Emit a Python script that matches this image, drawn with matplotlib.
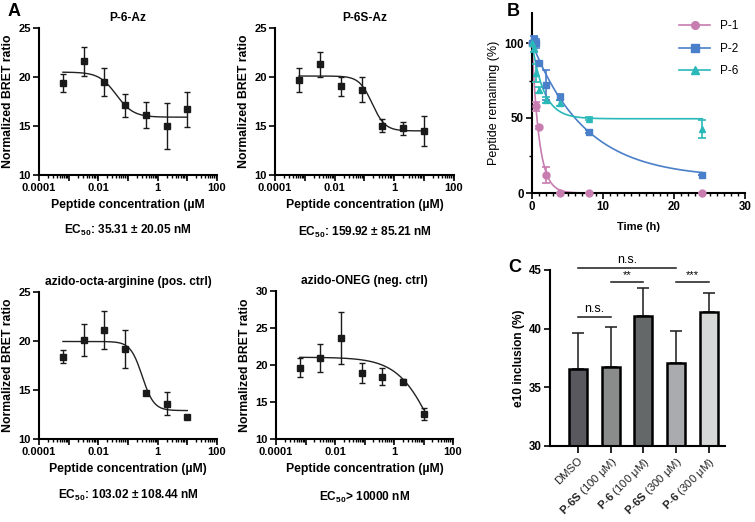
import numpy as np
import matplotlib
matplotlib.use('Agg')
import matplotlib.pyplot as plt
from matplotlib.ticker import FixedLocator, FixedFormatter, LogLocator, NullFormatter

plt.rcParams['font.family'] = ['Liberation Sans', 'DejaVu Sans']
plt.rcParams['font.weight'] = 'bold'
plt.rcParams['mathtext.fontset'] = 'custom'
plt.rcParams['mathtext.rm'] = 'Liberation Sans'
plt.rcParams['mathtext.bf'] = 'Liberation Sans:bold'
plt.rcParams['mathtext.default'] = 'bf'

# --- Panel A data (BRET dose response) ---
conc = [0.00064, 0.0032, 0.016, 0.08, 0.4, 2, 10]  # uM

p6az_mean = [19.4, 21.6, 19.5, 17.1, 16.1, 15.0, 16.7]
p6az_err = [0.9, 1.5, 1.45, 1.2, 1.3, 2.3, 1.8]
p6az_fit = [20.5, 15.9, 0.04, 1.5]      # top, bottom, EC50 (uM), hill

p6saz_mean = [19.7, 21.3, 19.05, 18.7, 15.05, 14.75, 14.5]
p6saz_err = [1.2, 1.25, 0.95, 1.3, 0.7, 0.7, 1.5]
p6saz_fit = [20.1, 14.5, 0.18, 2.0]

pos_mean = [18.4, 20.1, 21.1, 19.2, 14.65, 13.6, 12.2]
pos_err = [0.65, 1.6, 1.95, 1.95, 0.2, 1.2, 0.1]
pos_fit = [19.95, 12.9, 0.3, 2.2]

neg_mean = [19.65, 20.95, 23.65, 18.95, 18.4, 17.75, 13.4]
neg_err = [1.25, 1.9, 3.55, 1.35, 1.15, 0.35, 0.8]
neg_fit = [21.05, 0.0, 26.6, 0.7]

# --- Panel B data (peptide stability) ---
t_p1 = [0, 0.5, 1, 2, 4, 8, 24]
p1_mean = [100, 58, 44, 12, 0, 0, 0]
p1_err = [0, 3, 1, 5.5, 0, 0, 0]
p1_fit = [0, 1.0]            # plateau, k (1/h)

t_p2 = [0, 0.25, 0.5, 1, 2, 4, 8, 24]
p2_mean = [100, 103, 100, 87, 72, 64, 41, 12]
p2_err = [0, 2, 3, 1, 10, 2, 1, 0]
p2_fit = [10, 0.134]

t_p6 = [0, 0.25, 0.5, 1, 2, 4, 8, 24]
p6_mean = [100, 97, 80, 69, 62, 60, 49.5, 43]
p6_err = [0, 3, 6, 2, 2, 2, 1, 6]
p6_fit = [49.5, 0.6]

# --- Panel C data (exon 10 inclusion) ---
groups = ['DMSO', 'P-6S (100 μM)', 'P-6 (100 μM)', 'P-6S (300 μM)', 'P-6 (300 μM)']
group_labels = ['DMSO', r'$\mathbf{P}$-$\mathbf{6S}$ (100 μM)', r'$\mathbf{P}$-$\mathbf{6}$ (100 μM)',
                r'$\mathbf{P}$-$\mathbf{6S}$ (300 μM)', r'$\mathbf{P}$-$\mathbf{6}$ (300 μM)']
incl_mean = [36.55, 36.7, 41.1, 37.05, 41.45]
incl_err = [3.05, 3.4, 2.35, 2.75, 1.6]
bar_colors = ['#58585e', '#8a8c8c', '#656868', '#a9abae', '#d6d8d8']
sig = [(0, 1, 41.0, 'n.s.'), (1, 2, 44.0, '**'), (3, 4, 44.0, '***'), (0, 3, 45.2, 'n.s.')]

W, H = 755, 522
fig = plt.figure(figsize=(W / 100, H / 100), dpi=100)


def box(l, t, r, b):
    return [l / W, 1 - b / H, (r - l) / W, (b - t) / H]


def four_pl(x, top, bottom, ec50, hill):
    return bottom + (top - bottom) / (1 + (x / ec50) ** hill)


def dose_panel(rect, title, mean, err, fit, ylim, yticks, ec_text, xlab, ec_y):
    ax = fig.add_axes(rect)
    ax.set_xscale('log')
    xs = np.logspace(np.log10(conc[0]), np.log10(conc[-1]), 200)
    ax.plot(xs, four_pl(xs, *fit), color='#222222', lw=1.0)
    ax.errorbar(conc, mean, yerr=err, fmt='s', color='#1a1a1a', ms=4.8,
                elinewidth=1.0, capsize=2.5, capthick=1.0, clip_on=False)
    ax.set_xlim(1e-4, 100)
    ax.set_ylim(*ylim)
    ax.set_yticks(yticks)
    ax.xaxis.set_major_locator(FixedLocator([1e-4, 1e-3, 1e-2, 1e-1, 1, 10, 100]))
    ax.xaxis.set_major_formatter(FixedFormatter(['0.0001', '', '0.01', '', '1', '', '100']))
    ax.xaxis.set_minor_locator(LogLocator(base=10, subs=np.arange(2, 10), numticks=20))
    ax.xaxis.set_minor_formatter(NullFormatter())
    for s in ['top', 'right']:
        ax.spines[s].set_visible(False)
    for s in ['left', 'bottom']:
        ax.spines[s].set_linewidth(1.5)
    ax.tick_params(which='major', length=4, width=1.2, labelsize=8, pad=2)
    ax.tick_params(which='minor', length=2.5, width=1.0)
    ax.set_title(title, fontsize=8.6, fontweight='bold', pad=5)
    ax.set_xlabel(xlab, fontsize=8.8, fontweight='bold', labelpad=4)
    ax.set_ylabel('Normalized BRET ratio', fontsize=8.8, fontweight='bold', labelpad=3)
    cx = rect[0] + rect[2] / 2
    fig.text(cx, 1 - ec_y / H, ec_text, ha='center', va='center', fontsize=8.6, fontweight='bold')
    return ax


dose_panel(box(39, 28, 217, 175), 'P-6-Az', p6az_mean, p6az_err, p6az_fit, (10, 25),
           [10, 15, 20, 25], r'EC$_{50}$: 35.31 ± 20.05 nM', 'Peptide concentration (µM', 230)
dose_panel(box(275, 28, 454, 175), 'P-6S-Az', p6saz_mean, p6saz_err, p6saz_fit, (10, 25),
           [10, 15, 20, 25], r'EC$_{50}$: 159.92 ± 85.21 nM', 'Peptide concentration (µM)', 232)
dose_panel(box(39, 292, 217, 439), 'azido-octa-arginine (pos. ctrl)', pos_mean, pos_err, pos_fit,
           (10, 25), [10, 15, 20, 25], r'EC$_{50}$: 103.02 ± 108.44 nM',
           'Peptide concentration (µM)', 495)
dose_panel(box(276, 291, 453, 439), 'azido-ONEG (neg. ctrl)', neg_mean, neg_err, neg_fit,
           (10, 30), [10, 15, 20, 25, 30], r'EC$_{50}$> 10000 nM',
           'Peptide concentration (µM)', 497)

# --- Panel B ---
axb = fig.add_axes(box(532, 13, 745, 193))
tt = np.linspace(0, 24, 300)
series = [('P-1', t_p1, p1_mean, p1_err, p1_fit, '#c77db0', 'o'),
          ('P-2', t_p2, p2_mean, p2_err, p2_fit, '#4a7fc9', 's'),
          ('P-6', t_p6, p6_mean, p6_err, p6_fit, '#2bb8b8', '^')]
for name, t, m, e, fit, col, mk in series:
    plateau, k = fit
    axb.plot(tt, plateau + (100 - plateau) * np.exp(-k * tt), color=col, lw=1.2)
    axb.errorbar(t, m, yerr=e, fmt=mk, color=col, ms=5, elinewidth=1.2,
                 capsize=3, capthick=1.2, clip_on=False, zorder=3)
    axb.plot([], [], color=col, marker=mk, ms=5.5, lw=1.2, label=name)
axb.set_xlim(0, 30)
axb.set_ylim(0, 120)
axb.set_xticks([0, 10, 20, 30])
axb.set_xticks(np.arange(0, 31, 1), minor=True)
axb.set_yticks([0, 50, 100])
axb.set_yticks([25, 75], minor=True)
for s in ['top', 'right']:
    axb.spines[s].set_visible(False)
for s in ['left', 'bottom']:
    axb.spines[s].set_linewidth(1.5)
axb.tick_params(which='major', length=4, width=1.2, labelsize=8.3, pad=2)
axb.tick_params(which='minor', length=2.5, width=1.0)
axb.set_xlabel('Time (h)', fontsize=8, fontweight='bold', labelpad=6)
axb.set_ylabel('Peptide remaining (%)', fontsize=9, fontweight='normal', labelpad=3)
axb.legend(loc='upper right', frameon=False, handlelength=2.6,
           labelspacing=0.9, borderaxespad=0.2, prop={'weight': 'normal', 'size': 8.5})

# --- Panel C ---
axc = fig.add_axes(box(550, 270, 725, 446))
x = np.arange(len(groups))
axc.bar(x, incl_mean, width=0.55, color=bar_colors, edgecolor='black', linewidth=1.8, zorder=2)
axc.errorbar(x, incl_mean, yerr=[np.zeros(len(x)), incl_err], fmt='none', ecolor='#1a1a1a',
             elinewidth=1.1, capsize=4, capthick=1.1, zorder=1)
for i, j, y, lab in sig:
    axc.plot([x[i], x[j]], [y, y], color='#1a1a1a', lw=1.1, clip_on=False)
    axc.text((x[i] + x[j]) / 2, y + 0.15, lab, ha='center', va='bottom',
             fontsize=9 if 'n' in lab else 8, fontweight='normal')
axc.set_xlim(-0.85, 4.5)
axc.set_ylim(30, 45)
axc.set_yticks([30, 35, 40, 45])
axc.set_xticks(x)
axc.set_xticklabels(group_labels, rotation=45, ha='right', rotation_mode='anchor',
                    fontsize=8.2, fontweight='normal', color='#222222')
for s in ['top', 'right']:
    axc.spines[s].set_visible(False)
for s in ['left', 'bottom']:
    axc.spines[s].set_linewidth(1.5)
axc.tick_params(axis='y', length=4, width=1.2, labelsize=8.3, pad=2)
axc.tick_params(axis='x', length=5, width=1.2, pad=1.5)
axc.set_ylabel('e10 inclusion (%)', fontsize=8.6, fontweight='bold', labelpad=3)

# panel letters
fig.text(8 / W, 1 - 12 / H, 'A', fontsize=13, fontweight='bold', va='center')
fig.text(507 / W, 1 - 12 / H, 'B', fontsize=13, fontweight='bold', va='center')
fig.text(508 / W, 1 - 268 / H, 'C', fontsize=13, fontweight='bold', va='center')

fig.savefig('out.png', dpi=100)
